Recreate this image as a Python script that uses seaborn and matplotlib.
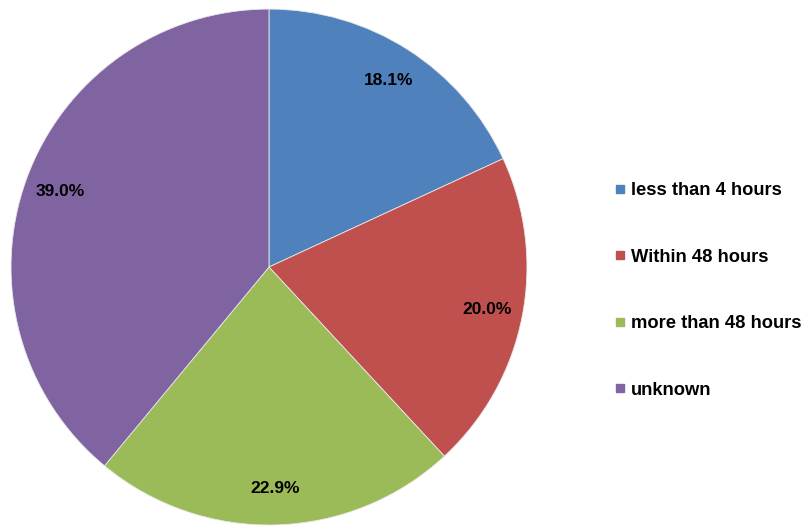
import matplotlib
matplotlib.use("Agg")
import matplotlib.pyplot as plt
from matplotlib.lines import Line2D
import seaborn as sns

# data
categories = ["less than 4 hours", "Within 48 hours", "more than 48 hours", "unknown"]
shares = [18.1, 20.0, 22.9, 39.0]
colors = ["#4F81BD", "#C0504D", "#9BBB59", "#8064A2"]

sns.set_theme(style="white")
plt.rcParams['font.family'] = ['Liberation Sans', 'DejaVu Sans']

fig = plt.figure(figsize=(8.08, 5.27), dpi=100)
ax = fig.add_axes([0.0136, 0.0038, 0.6386, 0.979])

wedges, _, autotexts = ax.pie(
    shares,
    colors=colors,
    startangle=90,
    counterclock=False,
    autopct='%1.1f%%',
    pctdistance=0.86,
    radius=1.0,
    wedgeprops=dict(edgecolor='#e8e8e8', linewidth=0.6),
    textprops=dict(fontsize=12.5, fontweight='bold', color='black'),
)
ax.set_xlim(-1, 1)
ax.set_ylim(-1, 1)
ax.set_aspect('equal')
ax.axis('off')

handles = [Line2D([0], [0], marker='s', linestyle='', markersize=6,
                  markerfacecolor=c, markeredgecolor=c) for c in colors]
leg = fig.legend(handles, categories, loc='upper left',
                 bbox_to_anchor=(0.752, 0.668), frameon=False,
                 prop=dict(size=13.2, weight='bold'), labelcolor='black',
                 handlelength=0.55, handletextpad=0.3,
                 labelspacing=2.7, borderaxespad=0)

fig.savefig("out.png", dpi=100)
